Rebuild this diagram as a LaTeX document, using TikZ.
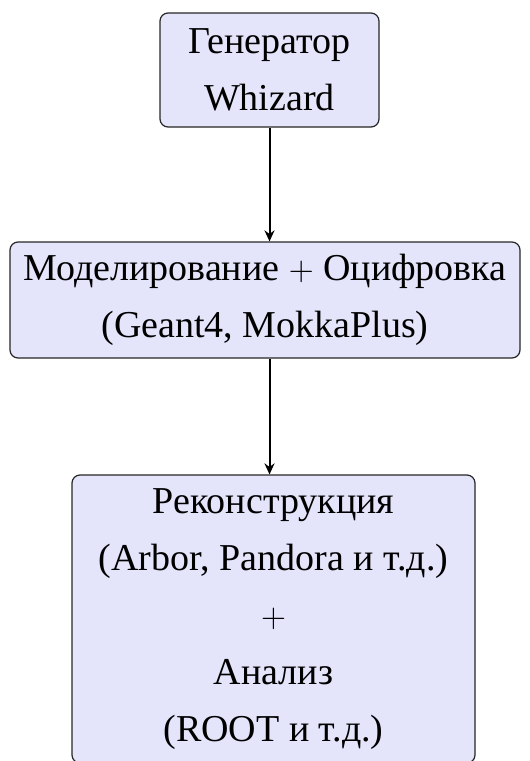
\documentclass[tikz,border=0pt]{standalone}
\usepackage{fontspec}
\setmainfont{Liberation Serif}
\usetikzlibrary{arrows.meta}
\definecolor{boxfill}{RGB}{228,228,250}
\begin{document}
\begin{tikzpicture}[x=0.5pt,y=-0.5pt,
  box/.style={draw=black!85, fill=boxfill, rounded corners=4pt, line width=0.6pt,
    align=center, font=\fontsize{19}{28.5}\selectfont, inner sep=0pt},
  conn/.style={line width=1pt, -{Stealth[length=5.5pt,width=5pt]}}]
\useasboundingbox (0,0) rectangle (530,761);
\clip (0,0) rectangle (530,761);
\node[box, minimum width=109.5pt, minimum height=57pt] (gen) at (269.5,70) {Генератор\\Whizard};
\node[box, minimum width=255pt, minimum height=58pt] (sim) at (265,300) {Моделирование $+$ Оцифровка\\(Geant4, MokkaPlus)};
\node[box, minimum width=201.5pt, minimum height=144pt] (rec) at (273.5,619) {Реконструкция\\(Arbor, Pandora и т.д.)\\$+$\\Анализ\\(ROOT и т.д.)};
\draw[conn] (gen.south) -- (gen.south |- sim.north);
\draw[conn] (gen.south |- sim.south) -- (gen.south |- rec.north);
\end{tikzpicture}
\end{document}
